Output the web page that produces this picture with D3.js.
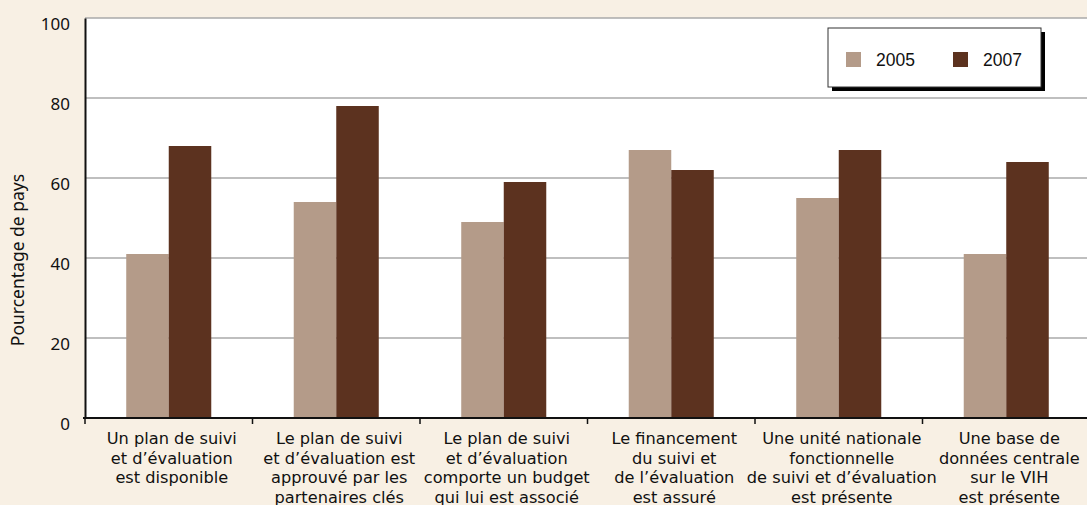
<!DOCTYPE html>
<html>
<head>
<meta charset="utf-8">
<script src="https://cdn.jsdelivr.net/npm/d3@7"></script>
<style>
  body { margin: 0; background: #f8f0e4; }
  text { font-family: "Noto Sans", sans-serif; fill: #111; }
  .xlab { font-family: "DejaVu Sans", sans-serif; }
  .legend text { font-family: "Liberation Sans", Arial, sans-serif; }
</style>
</head>
<body>
<div id="chart"></div>
<script>
var categories = [
    ["Un plan de suivi", "et d\u2019évaluation", "est disponible"],
    ["Le plan de suivi", "et d\u2019évaluation est", "approuvé par les", "partenaires clés"],
    ["Le plan de suivi", "et d\u2019évaluation", "comporte un budget", "qui lui est associé"],
    ["Le financement", "du suivi et", "de l\u2019évaluation", "est assuré"],
    ["Une unité nationale", "fonctionnelle", "de suivi et d\u2019évaluation", "est présente"],
    ["Une base de", "données centrale", "sur le VIH", "est présente"]
]
var series = ["2005", "2007"]
var values2005 = [41, 54, 49, 67, 55, 41]
var values2007 = [68, 78, 59, 62, 67, 64]
var yTicks = [0, 20, 40, 60, 80, 100]
var colors = ["#b49b89", "#5c321f"]

var width = 1087, height = 505
var margin = { top: 18, right: -3, bottom: 87, left: 85 }
var visWidth = width - margin.left - margin.right
var visHeight = height - margin.top - margin.bottom

var data = categories.map(function (c, i) {
    return { idx: i, lines: c, vals: [values2005[i], values2007[i]] }
})

var svg = d3.select("#chart").append("svg")
    .attr("width", width)
    .attr("height", height)

var chart = svg.append("g")
    .attr("transform", `translate(${margin.left},${margin.top})`)

var xScale = d3.scaleBand()
    .domain(data.map(d => d.idx))
    .range([0, visWidth])
    .padding(0)
var xInner = d3.scaleBand()
    .domain(series)
    .range([0, xScale.bandwidth()])
    .paddingInner(0)
    .paddingOuter(0.97)
var yScale = d3.scaleLinear()
    .domain([0, 100])
    .range([visHeight, 0])

// white plot area
chart.append("rect")
    .attr("width", visWidth + 10)
    .attr("height", visHeight)
    .attr("fill", "#fff")

// gridlines
chart.selectAll(".grid")
    .data(yTicks.filter(t => t > 0))
    .join("line")
    .attr("class", "grid")
    .attr("x1", 0)
    .attr("x2", visWidth + 10)
    .attr("y1", d => yScale(d))
    .attr("y2", d => yScale(d))
    .attr("stroke", "#aaa")
    .attr("stroke-width", 1.5)

// bars
var groups = chart.selectAll(".cat")
    .data(data)
    .join("g")
    .attr("class", "cat")
    .attr("transform", d => `translate(${xScale(d.idx)},0)`)

groups.selectAll("rect")
    .data(d => d.vals.map((v, j) => ({ key: series[j], v: v, j: j })))
    .join("rect")
    .attr("x", d => xInner(d.key))
    .attr("y", d => yScale(d.v))
    .attr("width", xInner.bandwidth())
    .attr("height", d => visHeight - yScale(d.v))
    .attr("fill", d => colors[d.j])

// y axis
var yAxis = d3.axisLeft(yScale).tickValues(yTicks).tickSize(0).tickPadding(15)
var yAxisGroup = chart.append("g").call(yAxis)
yAxisGroup.select(".domain").attr("stroke", "#111").attr("stroke-width", 2)
yAxisGroup.selectAll("text")
    .attr("dy", "0.7em")
    .style("font-size", "17px")
    .style("font-family", "'Noto Sans', sans-serif")
    .style("fill", "#111")

// x axis
var xAxisGroup = chart.append("g")
    .attr("transform", `translate(0,${visHeight})`)
xAxisGroup.append("line")
    .attr("x1", -2).attr("x2", visWidth + 10)
    .attr("stroke", "#111").attr("stroke-width", 2)
xAxisGroup.selectAll(".tick")
    .data(data.map(d => d.idx))
    .join("line")
    .attr("class", "tick")
    .attr("x1", d => xScale(d)).attr("x2", d => xScale(d))
    .attr("y1", 0).attr("y2", 6)
    .attr("stroke", "#111").attr("stroke-width", 1.5)

var labels = xAxisGroup.selectAll(".xlab")
    .data(data)
    .join("text")
    .attr("class", "xlab")
    .attr("text-anchor", "middle")
    .style("font-size", "16.2px")
    .attr("transform", d => `translate(${xScale(d.idx) + xScale.bandwidth() / 2 + 3},26)`)
labels.selectAll("tspan")
    .data(d => d.lines)
    .join("tspan")
    .attr("x", 0)
    .attr("y", (d, i) => i * 19.5)
    .text(d => d)

// y title
svg.append("text")
    .attr("transform", "translate(24,260) rotate(-90)")
    .attr("text-anchor", "middle")
    .style("font-size", "17.5px")
    .text("Pourcentage de pays")

// legend
var legend = svg.append("g").attr("class", "legend")
    .attr("transform", "translate(828,28)")
legend.append("rect")
    .attr("x", 4).attr("y", 4)
    .attr("width", 213).attr("height", 59)
    .attr("fill", "#000")
legend.append("rect")
    .attr("width", 213).attr("height", 59)
    .attr("fill", "#fff").attr("stroke", "#333").attr("stroke-width", 1)
var items = legend.selectAll(".item")
    .data(series)
    .join("g")
    .attr("class", "item")
    .attr("transform", (d, i) => `translate(${18 + i * 107},24)`)
items.append("rect")
    .attr("width", 15).attr("height", 15)
    .attr("fill", (d, i) => colors[i])
items.append("text")
    .attr("x", 30).attr("y", 14)
    .style("font-size", "17.5px")
    .text(d => d)
</script>
</body>
</html>
